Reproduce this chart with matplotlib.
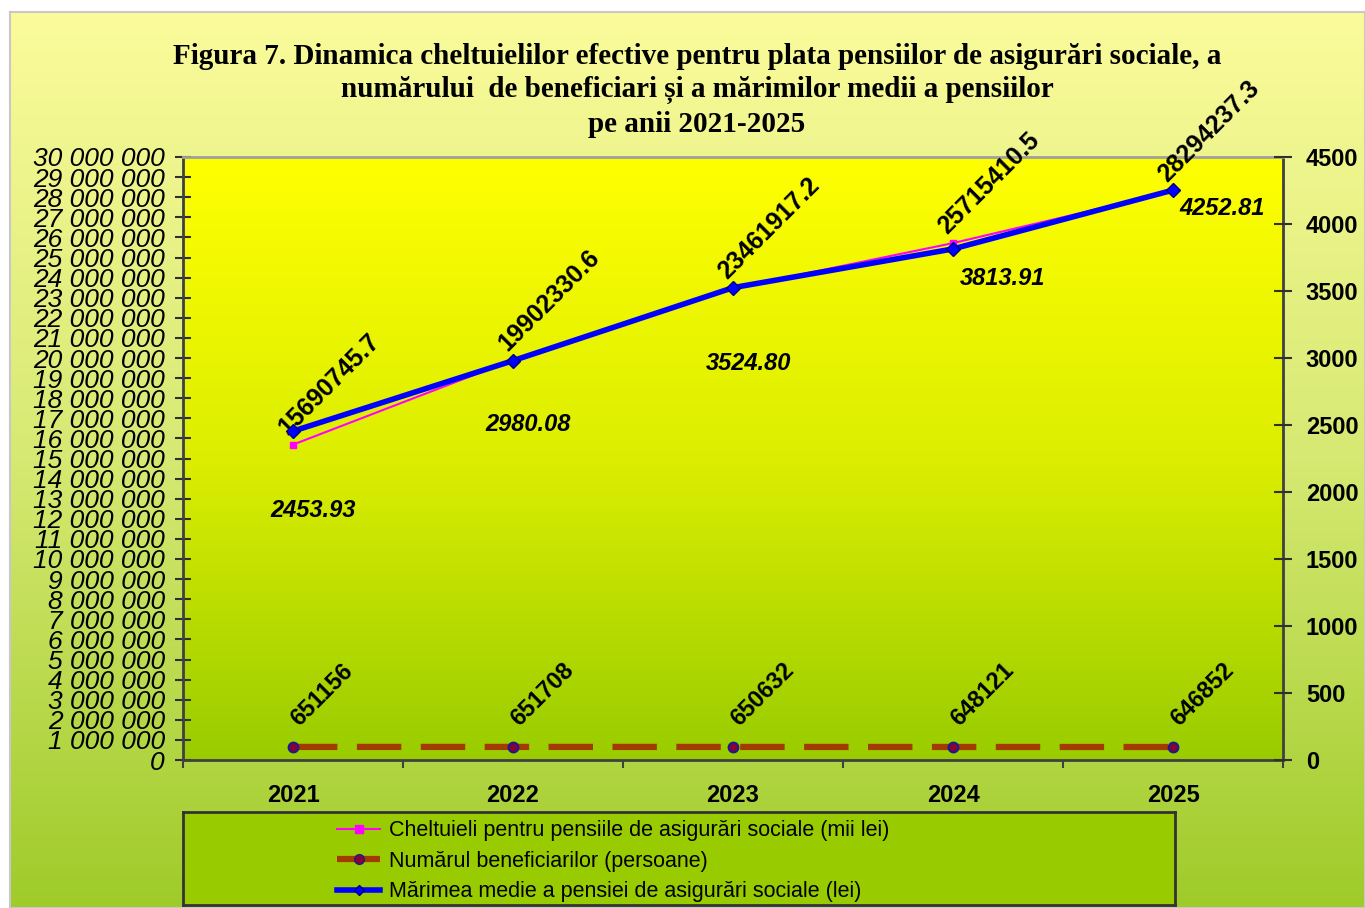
import numpy as np
import matplotlib
matplotlib.use('Agg')
import matplotlib.pyplot as plt
from matplotlib.colors import LinearSegmentedColormap
from matplotlib.lines import Line2D

plt.rcParams['font.family'] = ['Liberation Sans', 'DejaVu Sans']
plt.rcParams['lines.scale_dashes'] = False

# Data
years = ['2021', '2022', '2023', '2024', '2025']
cheltuieli = [15690745.7, 19902330.6, 23461917.2, 25715410.5, 28294237.3]   # mii lei
beneficiari = [651156, 651708, 650632, 648121, 646852]                      # persoane
marimea = [2453.93, 2980.08, 3524.80, 3813.91, 4252.81]                     # lei

title = ('Figura 7. Dinamica cheltuielilor efective pentru plata pensiilor de asigurări sociale, a\n'
         'numărului  de beneficiari și a mărimilor medii a pensiilor\n'
         'pe anii 2021-2025')
legend_labels = ['Cheltuieli pentru pensiile de asigurări sociale (mii lei)',
                 'Numărul beneficiarilor (persoane)',
                 'Mărimea medie a pensiei de asigurări sociale (lei)']

# label offsets in pixels (manual placement, as in the original)
marimea_offsets = [(20, -79), (15, -64), (15, -76), (50, -30), (49, -18)]

fig = plt.figure(figsize=(13.65, 9.08), dpi=100)
fig.patch.set_facecolor('white')

# outer gradient background
bg_cmap = LinearSegmentedColormap.from_list('bg', ['#9fcb2a', '#d6e972', '#fbfb9b'])
bg = fig.add_axes([10 / 1365, 0, 1 - 10 / 1365, 896 / 908], zorder=-5)
bg.imshow(np.linspace(0, 1, 256).reshape(-1, 1), aspect='auto', cmap=bg_cmap,
          origin='lower', extent=[0, 1, 0, 1])
bg.set_xticks([])
bg.set_yticks([])
for s in bg.spines.values():
    s.set_color('#c8c8c8')
    s.set_linewidth(1.5)

# plot area
ax = fig.add_axes([183 / 1365, 148 / 908, 1100 / 1365, 603 / 908])
pa_cmap = LinearSegmentedColormap.from_list('pa', ['#99cc00', '#dcee00', '#ffff00'])
ax.imshow(np.linspace(0, 1, 256).reshape(-1, 1), aspect='auto', cmap=pa_cmap,
          origin='lower', extent=[0, 1, 0, 1], transform=ax.transAxes, zorder=-10)

x = np.arange(len(years))
ax.plot(x, cheltuieli, color='#ff00ff', lw=1.5, marker='s', ms=5, zorder=3)
ax.plot(x, beneficiari, color='#a33a00', lw=4.5, dashes=(32, 14), dash_capstyle='butt',
        marker='o', ms=7, mfc='#880033', mec='#1a1a90', mew=1.5, zorder=3)

ax.set_xlim(-0.5, len(years) - 0.5)
ax.set_ylim(0, 30000000)
ax.set_yticks(np.arange(0, 30000001, 1000000))
ax.set_yticklabels(['0' if v == 0 else f'{v:,}'.replace(',', ' ') for v in range(0, 30000001, 1000000)],
                   fontsize=19, fontstyle='italic')
ax.set_xticks(np.arange(len(years) + 1) - 0.5)
ax.set_xticklabels([])
ax.set_xticks(x, minor=True)
ax.set_xticklabels(years, minor=True, fontsize=17, fontweight='bold')
ax.tick_params(axis='x', which='major', direction='out', length=6, width=1.5, color='#404040')
ax.tick_params(axis='x', which='minor', length=0, pad=17)
ax.tick_params(axis='y', direction='inout', length=12, width=1.5, color='#303030', pad=7)

for sp in ['left', 'bottom', 'right']:
    ax.spines[sp].set_color('#404040')
    ax.spines[sp].set_linewidth(2)
ax.spines['top'].set_color('#a0a0a0')
ax.spines['top'].set_linewidth(2)

ax2 = ax.twinx()
ax2.plot(x, marimea, color='#0000ff', lw=4, marker='D', ms=7, mfc='#0000ff', mec='#000080', zorder=4)
ax2.set_ylim(0, 4500)
ax2.set_yticks(np.arange(0, 4501, 500))
ax2.set_yticklabels([str(v) for v in range(0, 4501, 500)], fontsize=17, fontweight='bold')
ax2.tick_params(axis='y', direction='inout', length=13, width=1.5, color='#303030', pad=10)
for s in ax2.spines.values():
    s.set_visible(False)

px = 0.72  # pixels -> points at 100 dpi

for xi, v in zip(x, cheltuieli):
    ax.annotate(f'{v:.1f}', (xi, v), xytext=(36 * px, 60 * px), textcoords='offset points',
                rotation=45, rotation_mode='anchor', ha='center', va='center',
                fontsize=18, fontweight='bold', zorder=6)

for xi, v in zip(x, beneficiari):
    ax.annotate(str(v), (xi, v), xytext=(29 * px, 52 * px), textcoords='offset points',
                rotation=45, rotation_mode='anchor', ha='center', va='center',
                fontsize=17, fontweight='bold', zorder=6)

for xi, v, (dx, dy) in zip(x, marimea, marimea_offsets):
    ax2.annotate(f'{v:.2f}', (xi, v), xytext=(dx * px, dy * px), textcoords='offset points',
                 ha='center', va='center', fontsize=17, fontweight='bold', fontstyle='italic', zorder=6)

fig.text(697 / 1365, 1 - 43 / 908, title, ha='center', va='top', fontsize=21,
         fontweight='bold', family='Liberation Serif', linespacing=1.3)

# legend box
lax = fig.add_axes([183 / 1365, 3 / 908, 992 / 1365, 93 / 908])
lax.set_facecolor('#99cc00')
lax.set_xticks([])
lax.set_yticks([])
for s in lax.spines.values():
    s.set_color('#333333')
    s.set_linewidth(2)
handles = [
    Line2D([], [], color='#ff00ff', lw=1.5, marker='s', ms=6),
    Line2D([], [], color='#a33a00', lw=4.5, dashes=(32, 14), marker='o', ms=7,
           mfc='#880033', mec='#1a1a90'),
    Line2D([], [], color='#0000ff', lw=4, marker='D', ms=5, mfc='#0000ff', mec='#000080'),
]
lax.legend(handles, legend_labels, loc='center left', bbox_to_anchor=(0.147, 0.47),
           frameon=False, fontsize=15.5, handlelength=2.0, handletextpad=0.4,
           labelspacing=0.45, borderaxespad=0)

fig.savefig('out.png', dpi=100)
